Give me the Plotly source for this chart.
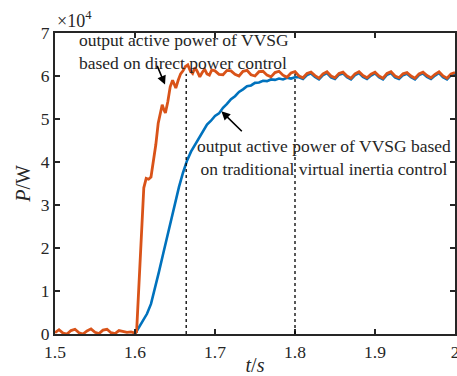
import plotly.graph_objects as go

# ---- data (power in units of 1e4 W) ----
t_red = [1.500, 1.505, 1.510, 1.515, 1.520, 1.525, 1.530, 1.535, 1.540, 1.545,
         1.550, 1.555, 1.560, 1.565, 1.570, 1.575, 1.580, 1.585, 1.590, 1.595,
         1.600, 1.602, 1.605, 1.608, 1.611, 1.614, 1.617, 1.620, 1.623, 1.626,
         1.629, 1.632, 1.634, 1.636, 1.638, 1.641, 1.644, 1.647, 1.649, 1.651,
         1.654, 1.657, 1.660, 1.663, 1.666, 1.669, 1.672, 1.675, 1.678, 1.681,
         1.684, 1.687, 1.690, 1.693, 1.696, 1.700,
         1.705, 1.710, 1.715, 1.720, 1.725, 1.730, 1.735, 1.740, 1.745, 1.750,
         1.755, 1.760, 1.765, 1.770, 1.775, 1.780, 1.785, 1.790, 1.795, 1.800,
         1.805, 1.810, 1.815, 1.820, 1.825, 1.830, 1.835, 1.840, 1.845, 1.850,
         1.855, 1.860, 1.865, 1.870, 1.875, 1.880, 1.885, 1.890, 1.895, 1.900,
         1.905, 1.910, 1.915, 1.920, 1.925, 1.930, 1.935, 1.940, 1.945, 1.950,
         1.955, 1.960, 1.965, 1.970, 1.975, 1.980, 1.985, 1.990, 1.995, 2.000]
p_red = [0.03, 0.10, 0.02, 0.00, 0.08, 0.11, 0.03, 0.00, 0.07, 0.12,
         0.04, 0.01, 0.09, 0.11, 0.03, 0.01, 0.08, 0.06, 0.04, 0.05,
         0.02, 0.05, 1.20, 2.60, 3.40, 3.62, 3.60, 3.65, 4.00, 4.40,
         4.90, 5.20, 5.33, 5.22, 5.14, 5.40, 5.75, 5.90, 5.82, 5.72,
         5.90, 6.05, 6.12, 6.22, 6.26, 6.12, 6.06, 6.20, 6.10, 5.98,
         6.08, 6.16, 6.05, 6.02, 6.14, 6.12,
         6.04, 6.03, 6.13, 6.12, 6.04, 6.00, 6.11, 6.13, 6.03, 6.00,
         6.10, 6.11, 6.02, 5.98, 6.08, 6.11, 6.02, 5.97, 6.07, 6.10,
         6.00, 5.96, 6.06, 6.09, 6.01, 5.95, 6.05, 6.10, 6.00, 5.96,
         6.06, 6.09, 6.00, 5.95, 6.05, 6.10, 6.01, 5.96, 6.04, 6.09,
         6.00, 5.95, 6.06, 6.10, 6.00, 5.96, 6.05, 6.08, 6.00, 5.95,
         6.05, 6.09, 6.01, 5.96, 6.04, 6.10, 6.00, 5.95, 6.05, 6.08]

t_blue = [1.600, 1.605, 1.610, 1.615, 1.620, 1.625, 1.630, 1.635, 1.640, 1.645,
          1.650, 1.655, 1.660, 1.665, 1.670, 1.675, 1.680, 1.685, 1.690, 1.695,
          1.700, 1.705, 1.710, 1.715, 1.720, 1.725, 1.730, 1.735, 1.740, 1.745,
          1.750, 1.755, 1.760, 1.765, 1.770, 1.775, 1.780, 1.785, 1.790, 1.795,
          1.800, 1.805, 1.810, 1.815, 1.820, 1.825, 1.830, 1.835, 1.840, 1.845,
          1.850, 1.855, 1.860, 1.865, 1.870, 1.875, 1.880, 1.885, 1.890, 1.895,
          1.900, 1.905, 1.910, 1.915, 1.920, 1.925, 1.930, 1.935, 1.940, 1.945,
          1.950, 1.955, 1.960, 1.965, 1.970, 1.975, 1.980, 1.985, 1.990, 1.995,
          2.000]
p_blue = [0.00, 0.15, 0.30, 0.47, 0.70, 1.05, 1.45, 1.85, 2.25, 2.66,
          3.05, 3.42, 3.75, 4.03, 4.24, 4.40, 4.57, 4.71, 4.87, 4.96,
          5.07, 5.13, 5.26, 5.35, 5.46, 5.53, 5.63, 5.69, 5.76, 5.78,
          5.84, 5.85, 5.89, 5.88, 5.92, 5.91, 5.94, 5.92, 5.96, 5.94,
          5.97, 5.97, 5.93, 6.02, 6.06, 5.98, 5.92, 6.02, 6.07, 5.97,
          5.93, 6.03, 6.06, 5.97, 5.92, 6.02, 6.07, 5.98, 5.93, 6.01,
          6.06, 5.97, 5.92, 6.03, 6.07, 5.97, 5.93, 6.02, 6.05, 5.97,
          5.92, 6.02, 6.06, 5.98, 5.93, 6.01, 6.07, 5.97, 5.92, 6.02,
          6.05]

marker_times = [1.664, 1.8]
marker_top = 6.05

x_ticks = [1.5, 1.6, 1.7, 1.8, 1.9, 2.0]
x_ticklabels = ["1.5", "1.6", "1.7", "1.8", "1.9", "2"]
y_ticks = [0, 1, 2, 3, 4, 5, 6, 7]
y_ticklabels = ["0", "1", "2", "3", "4", "5", "6", "7"]

text_dpc = "output active power of VVSG<br>based on direct power control"
text_vic = "output active power of VVSG based<br>on traditional virtual inertia control"

FONT = "Liberation Serif, Times New Roman, serif"
INK = "#262626"
RED = "#D95319"
BLUE = "#0072BD"

fig = go.Figure()
fig.add_trace(go.Scatter(x=t_blue, y=p_blue, mode="lines",
                         line=dict(color=BLUE, width=2.6), showlegend=False))
fig.add_trace(go.Scatter(x=t_red, y=p_red, mode="lines",
                         line=dict(color=RED, width=2.8), showlegend=False))

for tm in marker_times:
    fig.add_shape(type="line", xref="x", yref="y", x0=tm, x1=tm, y0=0, y1=marker_top,
                  line=dict(color="black", width=1.3, dash="dot"))

# text annotations
fig.add_annotation(x=1.661, y=6.58, xref="x", yref="y", text=text_dpc, showarrow=False,
                   align="left", font=dict(family=FONT, size=17.5, color=INK))
fig.add_annotation(x=1.836, y=4.11, xref="x", yref="y", text=text_vic, showarrow=False,
                   align="center", font=dict(family=FONT, size=17.5, color=INK))
# arrows
fig.add_annotation(x=1.6375, y=5.8, ax=1.627, ay=6.27, xref="x", yref="y",
                   axref="x", ayref="y", text="", showarrow=True, arrowhead=2,
                   arrowsize=1.1, arrowwidth=1.6, arrowcolor="black")
fig.add_annotation(x=1.708, y=5.18, ax=1.7354, ay=4.68, xref="x", yref="y",
                   axref="x", ayref="y", text="", showarrow=True, arrowhead=2,
                   arrowsize=1.1, arrowwidth=1.6, arrowcolor="black")
# exponent label
fig.add_annotation(x=0.0, y=1.0, xref="paper", yref="paper", xanchor="left", yanchor="bottom",
                   xshift=0, yshift=0, text="×10<sup>4</sup>", showarrow=False,
                   font=dict(family=FONT, size=18, color=INK))

axis_common = dict(showgrid=False, zeroline=False, showline=True, linecolor=INK,
                   linewidth=1.8, mirror="ticks", ticks="inside", ticklen=5,
                   tickwidth=1.5, tickcolor=INK, ticklabeloverflow="allow",
                   automargin=False,
                   tickfont=dict(family=FONT, size=17.5, color=INK))

fig.update_xaxes(range=[1.5, 2.0], tickvals=x_ticks, ticktext=x_ticklabels,
                 ticklabelstandoff=1,
                 title=dict(text="<i>t</i>/<i>s</i>", standoff=1,
                            font=dict(family=FONT, size=20, color=INK)),
                 **axis_common)
fig.update_yaxes(range=[0, 7], tickvals=y_ticks, ticktext=y_ticklabels,
                 title=dict(text="<i>P</i>/W", standoff=5,
                            font=dict(family=FONT, size=20, color=INK)),
                 **axis_common)

fig.update_layout(width=457, height=376, margin=dict(l=55, r=2, t=33, b=42),
                  paper_bgcolor="white", plot_bgcolor="white")

fig.write_html("out.html")
